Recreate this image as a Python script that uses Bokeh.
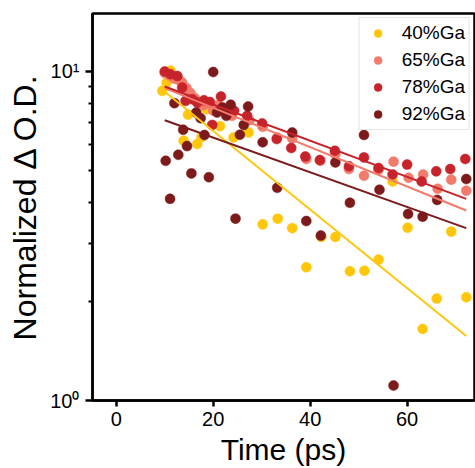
from bokeh.plotting import figure
from bokeh.models import Range1d, FixedTicker
from bokeh.embed import file_html
from bokeh.resources import INLINE

# ---- data ----
t40 = [9.5, 10.4, 11.2, 13.9, 14.8, 16.7, 17.6, 18.6, 21.4, 24.2, 27.3, 30.2, 33.3, 36.3,
       39.2, 42.3, 45.2, 48.2, 51.2, 54.1, 57.0, 60.1, 63.2, 66.1, 69.1, 72.2]
v40 = [8.73, 9.26, 10.05, 6.16, 7.39, 6.02, 6.32, 7.68, 6.82, 6.30, 6.52, 3.43, 3.57, 3.34,
       2.54, 3.14, 3.14, 2.47, 2.48, 2.68, 4.63, 3.35, 1.65, 2.04, 3.26, 2.06]

t65 = [10.0, 11.0, 12.0, 13.0, 13.6, 14.5, 15.3, 16.2, 17.0, 18.0, 19.0, 20.0, 21.0, 22.0,
       23.0, 23.9, 27.5, 30.2, 33.2, 36.3, 39.2, 42.1, 45.2, 48.0, 51.1, 54.1, 57.2, 60.3,
       63.3, 66.3, 69.1, 72.2]
v65 = [9.9, 9.7, 9.5, 9.4, 9.26, 8.9, 8.6, 8.3, 8.0, 7.9, 8.0, 7.6, 7.9, 7.6,
       7.5, 7.33, 7.11, 6.79, 6.30, 6.26, 5.42, 5.35, 5.60, 5.05, 4.82, 5.02, 5.32, 4.75,
       4.86, 4.40, 4.69, 4.34]

t78 = [10.0, 11.2, 12.6, 13.6, 14.3, 15.7, 16.7, 18.1, 19.3, 19.8, 21.6, 22.7, 24.3, 27.0,
       30.1, 33.1, 36.1, 39.0, 42.0, 45.1, 48.0, 51.1, 54.1, 57.0, 60.0, 63.0, 66.0, 68.9, 72.0]
v78 = [10.0, 9.8, 9.68, 8.93, 8.14, 8.23, 8.04, 8.17, 8.08, 6.88, 8.39, 7.6, 7.6, 7.33,
       6.95, 6.23, 5.85, 5.51, 5.38, 5.74, 5.15, 5.48, 5.09, 4.86, 5.21, 4.63, 4.97, 5.05, 5.42]

t92 = [10.2, 11.1, 12.0, 12.8, 13.8, 14.6, 15.5, 16.5, 17.4, 18.2, 19.1, 20.0, 20.8, 21.9,
       22.7, 23.6, 24.6, 25.5, 26.3, 27.2, 30.2, 33.2, 36.3, 39.2, 42.2, 45.2, 48.2, 51.1,
       54.3, 57.2, 60.2, 63.2, 66.2, 72.2]
v92 = [5.35, 4.10, 8.01, 5.58, 6.65, 5.93, 4.90, 7.50, 7.21, 6.41, 4.77, 9.96, 7.50, 7.77,
       7.33, 7.92, 3.57, 6.42, 6.88, 7.82, 6.09, 4.43, 6.52, 3.51, 3.17, 5.29, 3.99, 6.41,
       4.37, 1.11, 3.69, 3.62, 4.07, 4.71]

# exponential fits (straight lines on the log axis): endpoints
fit_t = [10.0, 72.2]
fit40 = [8.67, 1.57]
fit65 = [8.90, 3.78]
fit78 = [9.00, 4.10]
fit92 = [7.11, 3.34]

labels = ["40%Ga", "65%Ga", "78%Ga", "92%Ga"]
colors = ["#FFC60B", "#F37B6B", "#C6232B", "#7D1A1B"]

x_ticks = [0, 20, 40, 60]
y_major = [1, 10]
y_minor = [2, 3, 4, 5, 6, 7, 8, 9]
y_tick_labels = {1: "10\u2070", 10: "10\u00b9"}

FONT = "Liberation Sans"

p = figure(width=475, height=468, y_axis_type="log",
           x_range=Range1d(-4.9, 73.9), y_range=Range1d(1, 15),
           output_backend="svg", toolbar_location=None,
           min_border_left=92, min_border_right=1, min_border_top=13, min_border_bottom=67)

series = [(t40, v40, fit40), (t65, v65, fit65), (t78, v78, fit78), (t92, v92, fit92)]
for (t, v, f), lab, c in zip(series, labels, colors):
    p.scatter(t, v, size=10, marker="circle", fill_color=c, line_color=c, line_width=0.5,
              legend_label=lab)
for (t, v, f), c in zip(series, colors):
    p.line(fit_t, f, line_color=c, line_width=2)

p.xgrid.visible = False
p.ygrid.visible = False
p.outline_line_color = "black"
p.outline_line_width = 2.5
p.outline_line_alpha = 1
p.background_fill_color = "white"
p.border_fill_color = "white"

p.xaxis.ticker = FixedTicker(ticks=x_ticks)
p.yaxis.ticker = FixedTicker(ticks=y_major, minor_ticks=y_minor)
p.yaxis.major_label_overrides = y_tick_labels

for ax in (p.xaxis[0], p.yaxis[0]):
    ax.axis_line_width = 2.5
    ax.axis_line_color = "black"
    ax.major_tick_line_width = 2.5
    ax.minor_tick_line_width = 2
    ax.major_tick_in = 0
    ax.minor_tick_in = 0
    ax.major_label_text_font = FONT
    ax.major_label_text_font_size = "20px"
    ax.major_label_text_color = "black"
    ax.axis_label_text_font = FONT
    ax.axis_label_text_font_style = "normal"
    ax.axis_label_text_color = "black"

p.xaxis.major_tick_out = 6
p.xaxis.minor_tick_out = 0
p.xaxis.major_label_standoff = 5
p.xaxis.axis_label = "Time (ps)"
p.xaxis.axis_label_text_font_size = "30px"
p.xaxis.axis_label_standoff = 4

p.yaxis.major_tick_out = 7
p.yaxis.minor_tick_out = 4
p.yaxis.major_label_standoff = 6
p.yaxis.axis_label = "Normalized \u0394 O.D."
p.yaxis.axis_label_text_font_size = "32px"
p.yaxis.axis_label_standoff = 4

lg = p.legend[0]
lg.location = "top_right"
lg.margin = 4
lg.padding = 4
lg.spacing = 5
lg.label_text_font = FONT
lg.label_text_font_size = "19px"
lg.label_text_color = "black"
lg.label_height = 20
lg.glyph_height = 20
lg.glyph_width = 28
lg.label_standoff = 10
lg.border_line_color = "#cccccc"
lg.border_line_width = 1.5
lg.background_fill_color = "white"
lg.background_fill_alpha = 1

open("out.html", "w").write(file_html(p, INLINE))
